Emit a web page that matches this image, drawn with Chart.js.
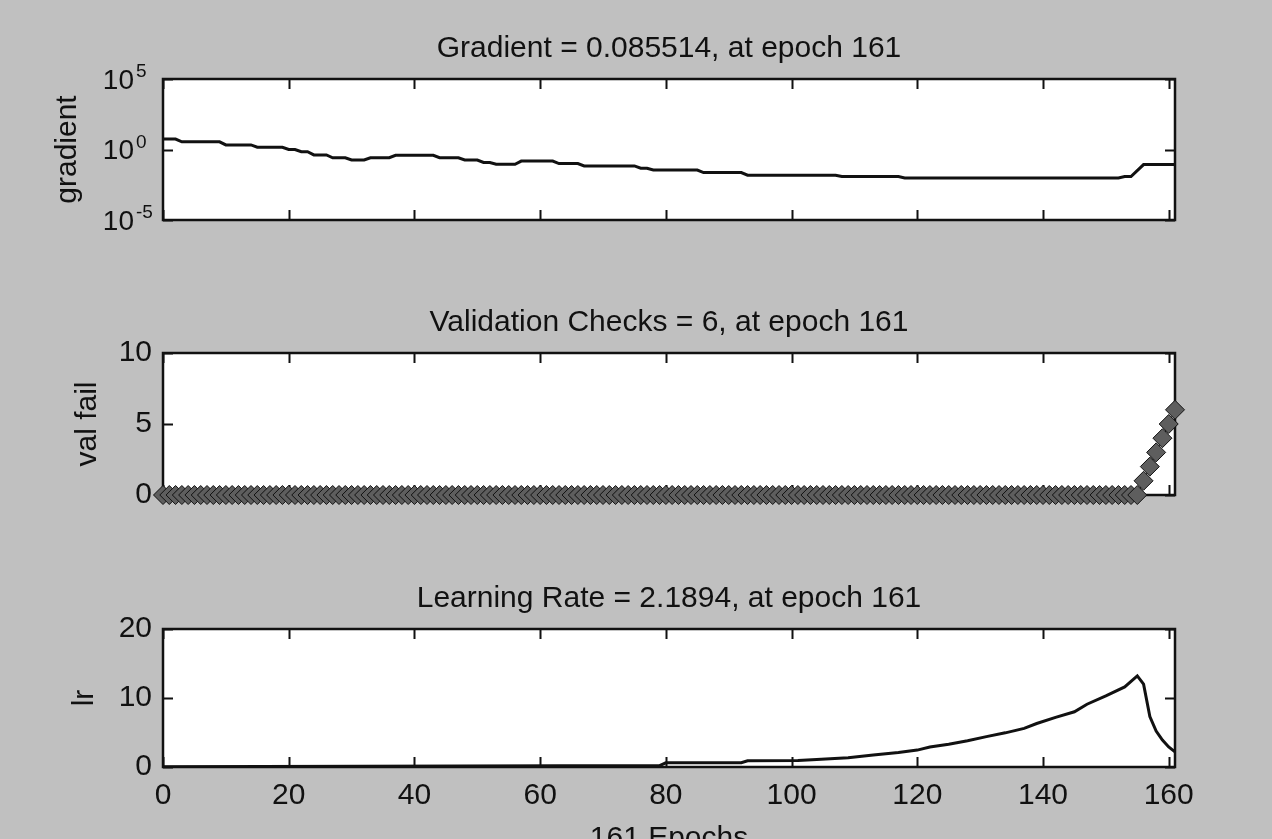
<!DOCTYPE html>
<html>
<head>
<meta charset="utf-8">
<script src="https://cdn.jsdelivr.net/npm/chart.js@4.4.1/dist/chart.umd.min.js"></script>
<style>
  html, body { margin:0; padding:0; background:#c0c0c0; width:1272px; height:839px; overflow:hidden; }
  .plot { position:absolute; left:0; width:1272px; }
</style>
</head>
<body>
<div class="plot" style="top:0;height:274px"><canvas id="gradChart"></canvas></div>
<div class="plot" style="top:274px;height:276px"><canvas id="valChart"></canvas></div>
<div class="plot" style="top:550px;height:307px"><canvas id="lrChart"></canvas></div>
<script>
// data
const epochTicks = [0, 20, 40, 60, 80, 100, 120, 140, 160];
const gradTicks  = [1e-5, 1, 1e5];
const valTicks   = [0, 5, 10];
const lrTicks    = [0, 10, 20];

// gradient: plateau breakpoints (epoch, value)
const gradEpochs = [0, 2, 3, 9, 10, 14, 15, 19, 20, 21, 22, 23, 24, 26, 27, 29, 30, 32, 33, 36,
                    37, 43, 44, 47, 48, 50, 51, 52, 53, 56, 57, 62, 63, 66, 67, 75, 76, 77, 78, 85,
                    86, 92, 93, 107, 108, 117, 118, 152, 153, 154, 156, 161];
const gradValues = [5.5, 5.5, 3.5, 3.5, 2.1, 2.1, 1.45, 1.45, 1.0, 1.0, 0.69, 0.69, 0.41, 0.41, 0.26, 0.26, 0.18, 0.18, 0.26, 0.26,
                    0.39, 0.39, 0.26, 0.26, 0.18, 0.18, 0.12, 0.12, 0.089, 0.089, 0.15, 0.15, 0.10, 0.10, 0.068, 0.068, 0.047, 0.047, 0.035, 0.035,
                    0.023, 0.023, 0.015, 0.015, 0.012, 0.012, 0.0095, 0.0095, 0.012, 0.012, 0.0855, 0.085514];

// validation checks, one value per epoch 0..161
const valFail = [
  0,0,0,0,0,0,0,0,0,0,0,0,0,0,0,0,0,0,0,0,
  0,0,0,0,0,0,0,0,0,0,0,0,0,0,0,0,0,0,0,0,
  0,0,0,0,0,0,0,0,0,0,0,0,0,0,0,0,0,0,0,0,
  0,0,0,0,0,0,0,0,0,0,0,0,0,0,0,0,0,0,0,0,
  0,0,0,0,0,0,0,0,0,0,0,0,0,0,0,0,0,0,0,0,
  0,0,0,0,0,0,0,0,0,0,0,0,0,0,0,0,0,0,0,0,
  0,0,0,0,0,0,0,0,0,0,0,0,0,0,0,0,0,0,0,0,
  0,0,0,0,0,0,0,0,0,0,0,0,0,0,0,0,
  1,2,3,4,5,6
];

// learning rate breakpoints (epoch, value)
const lrEpochs = [0, 79, 80, 92, 93, 101, 104, 109, 113, 117, 120, 122, 125, 128, 131, 134, 137, 139,
                  142, 145, 147, 150, 153, 155, 156, 157, 158, 159, 160, 161];
const lrValues = [0.02, 0.2, 0.6, 0.62, 0.9, 0.95, 1.1, 1.35, 1.74, 2.1, 2.45, 2.9, 3.3, 3.8, 4.4, 4.95, 5.6, 6.3,
                  7.2, 8.0, 9.1, 10.3, 11.6, 13.2, 12.0, 7.3, 5.2, 3.9, 2.9, 2.1894];

// helpers
const FONT = '"Liberation Sans", Arial, Helvetica, sans-serif';
const INK = '#111';
const pts = (xs, ys) => xs.map((x, i) => ({ x, y: ys[i] }));
Chart.defaults.font.family = FONT;
Chart.defaults.color = INK;

// white plot box, inward ticks on all four sides, title above
const matlabAxes = {
  id: 'matlabAxes',
  beforeDatasetsDraw(chart, args, o) {
    const { ctx, chartArea: a, scales: { x, y } } = chart;
    ctx.save();
    ctx.fillStyle = '#fff';
    ctx.fillRect(a.left, a.top, a.right - a.left, a.bottom - a.top);
    ctx.strokeStyle = INK;
    ctx.lineWidth = 2;
    ctx.beginPath();
    for (const v of epochTicks) {
      const px = Math.round(x.getPixelForValue(v)) + 0.5;
      ctx.moveTo(px, a.bottom); ctx.lineTo(px, a.bottom - 10);
      ctx.moveTo(px, a.top);    ctx.lineTo(px, a.top + 10);
    }
    for (const v of o.yTicks) {
      const py = Math.round(y.getPixelForValue(v)) + 0.5;
      ctx.moveTo(a.left, py);  ctx.lineTo(a.left + 10, py);
      ctx.moveTo(a.right, py); ctx.lineTo(a.right - 10, py);
    }
    ctx.stroke();
    ctx.lineWidth = 2.5;
    ctx.strokeRect(a.left, a.top, a.right - a.left, a.bottom - a.top);
    ctx.restore();
  },
  afterDraw(chart, args, o) {
    const { ctx, chartArea: a, scales: { y } } = chart;
    ctx.save();
    ctx.fillStyle = INK;
    ctx.font = '30px ' + FONT;
    ctx.textAlign = 'center';
    ctx.textBaseline = 'alphabetic';
    ctx.fillText(o.title, (a.left + a.right) / 2, a.top - 22);
    if (o.powers) {
      // 10^n labels for the log axis
      for (const v of o.yTicks) {
        const py = y.getPixelForValue(v);
        const e = Math.round(Math.log10(v));
        ctx.font = '28px ' + FONT;
        ctx.textAlign = 'right';
        ctx.textBaseline = 'middle';
        ctx.fillText('10', 134, py + 2);
        ctx.font = '19px ' + FONT;
        ctx.textAlign = 'left';
        ctx.textBaseline = 'alphabetic';
        ctx.fillText(e < 0 ? '-' + (-e) : String(e), 136, py - 2);
      }
    }
    ctx.restore();
  }
};

function xScale(showLabels, h) {
  return {
    type: 'linear', min: 0, max: 161,
    afterBuildTicks: s => { s.ticks = epochTicks.map(v => ({ value: v })); },
    grid: { display: false, drawTicks: false }, border: { display: false },
    ticks: { display: showLabels, padding: 11, font: { size: 30 }, color: INK, maxRotation: 0, autoSkip: false },
    title: { display: showLabels, text: '161 Epochs', font: { size: 30 }, color: INK, padding: { top: 0, bottom: 0 } },
    afterFit: s => { s.height = h; }
  };
}

function yScale(extra, label, titlePad, tickList) {
  return Object.assign({
    afterBuildTicks: s => { s.ticks = tickList.map(v => ({ value: v })); },
    grid: { display: false, drawTicks: false }, border: { display: false },
    ticks: { padding: 11, font: { size: 30 }, color: INK, autoSkip: false },
    title: { display: true, text: label, font: { size: 30 }, color: INK, padding: { top: titlePad, bottom: 0 } },
    afterFit: s => { s.width = 163; }
  }, extra);
}

function baseOptions(x, y, axesOpts) {
  return {
    responsive: true, maintainAspectRatio: false, animation: false, events: [],
    layout: { padding: { top: 79, right: 97, left: 0, bottom: 0 } },
    scales: { x, y },
    plugins: { legend: { display: false }, tooltip: { enabled: false }, matlabAxes: axesOpts }
  };
}

// charts
new Chart(document.getElementById('gradChart'), {
  type: 'line',
  data: { datasets: [{ data: pts(gradEpochs, gradValues), borderColor: INK, borderWidth: 3, pointRadius: 0, tension: 0 }] },
  options: baseOptions(
    xScale(false, 54),
    yScale({ type: 'logarithmic', min: 1e-5, max: 1e5, ticks: { display: false } }, 'gradient', 50, gradTicks),
    { title: 'Gradient = 0.085514, at epoch 161', yTicks: gradTicks, powers: true }
  ),
  plugins: [matlabAxes]
});

new Chart(document.getElementById('valChart'), {
  type: 'line',
  data: { datasets: [{
    data: valFail.map((v, i) => ({ x: i, y: v })),
    borderColor: INK, borderWidth: 1, tension: 0, clip: false,
    pointStyle: 'rectRot', pointRadius: 9.5, pointBackgroundColor: '#5e5e5e', pointBorderColor: INK, pointBorderWidth: 1
  }] },
  options: baseOptions(
    xScale(false, 55),
    yScale({ type: 'linear', min: 0, max: 10 }, 'val fail', 70, valTicks),
    { title: 'Validation Checks = 6, at epoch 161', yTicks: valTicks }
  ),
  plugins: [matlabAxes]
});

new Chart(document.getElementById('lrChart'), {
  type: 'line',
  data: { datasets: [{ data: pts(lrEpochs, lrValues), borderColor: INK, borderWidth: 3, pointRadius: 0, tension: 0 }] },
  options: baseOptions(
    xScale(true, 90),
    yScale({ type: 'linear', min: 0, max: 20 }, 'lr', 67, lrTicks),
    { title: 'Learning Rate = 2.1894, at epoch 161', yTicks: lrTicks }
  ),
  plugins: [matlabAxes]
});
</script>
</body>
</html>
